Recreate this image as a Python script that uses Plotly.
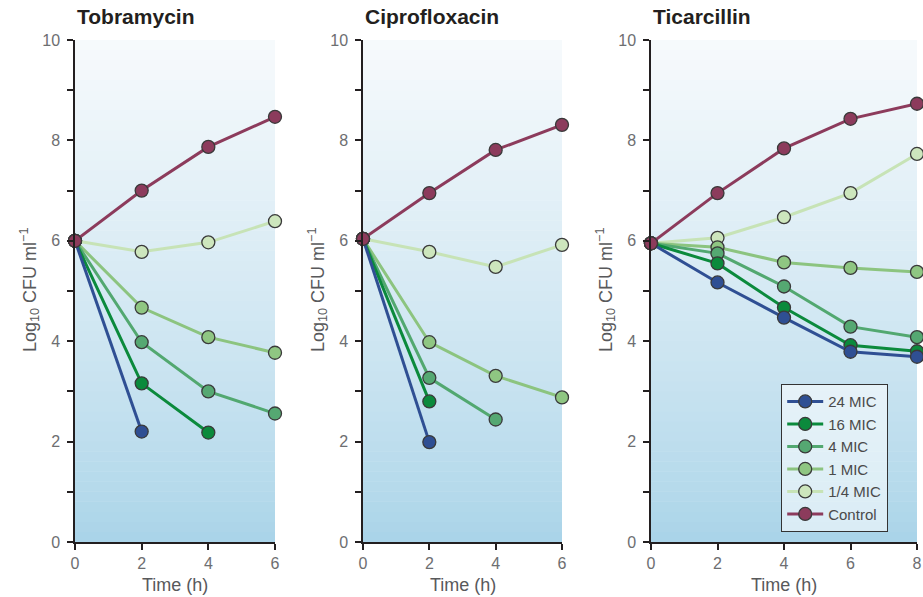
import plotly.graph_objects as go

# ---------------- data ----------------
series_names = ["24 MIC", "16 MIC", "4 MIC", "1 MIC", "1/4 MIC", "Control"]

tob_time = [0, 2, 4, 6]
tob_24 = [6.0, 2.2]
tob_16 = [6.0, 3.16, 2.18]
tob_4 = [6.0, 3.98, 3.0, 2.56]
tob_1 = [6.0, 4.67, 4.08, 3.77]
tob_q = [6.0, 5.78, 5.97, 6.39]
tob_ctrl = [6.0, 7.0, 7.87, 8.47]

cip_time = [0, 2, 4, 6]
cip_24 = [6.04, 1.99]
cip_16 = [6.04, 2.80]
cip_4 = [6.04, 3.27, 2.44]
cip_1 = [6.04, 3.98, 3.31, 2.88]
cip_q = [6.04, 5.78, 5.48, 5.92]
cip_ctrl = [6.04, 6.95, 7.81, 8.31]

tic_time = [0, 2, 4, 6, 8]
tic_24 = [5.95, 5.17, 4.47, 3.79, 3.69]
tic_16 = [5.95, 5.55, 4.67, 3.92, 3.80]
tic_4 = [5.95, 5.75, 5.09, 4.29, 4.08]
tic_1 = [5.95, 5.87, 5.57, 5.46, 5.38]
tic_q = [5.95, 6.06, 6.47, 6.95, 7.73]
tic_ctrl = [5.95, 6.95, 7.84, 8.43, 8.73]

panel_titles = ["Tobramycin", "Ciprofloxacin", "Ticarcillin"]
y_major = [0, 2, 4, 6, 8, 10]
y_minor_dtick = 1

panels = [
    (tob_time, [tob_24, tob_16, tob_4, tob_1, tob_q, tob_ctrl]),
    (cip_time, [cip_24, cip_16, cip_4, cip_1, cip_q, cip_ctrl]),
    (tic_time, [tic_24, tic_16, tic_4, tic_1, tic_q, tic_ctrl]),
]

# ---------------- style ----------------
W, H = 923, 597
FONT = "Liberation Sans, Arial, sans-serif"
line_colors = {"24 MIC": "#2f4f93", "16 MIC": "#0b8a3c", "4 MIC": "#52a870",
               "1 MIC": "#8cc47f", "1/4 MIC": "#c7e3b6", "Control": "#8c3b5c"}
marker_colors = {"24 MIC": "#2f4f93", "16 MIC": "#0b8a3c", "4 MIC": "#55a872",
                 "1 MIC": "#8fc682", "1/4 MIC": "#cde6bd", "Control": "#8c3b5c"}
draw_order = ["1/4 MIC", "1 MIC", "4 MIC", "16 MIC", "24 MIC", "Control"]

x_px = [(75, 275), (363, 562), (651, 917)]
y_top, y_bot = 40, 542
ydom = [1 - y_bot / H, 1 - y_top / H]

fig = go.Figure()

for i, (t, vals) in enumerate(panels):
    ax = "" if i == 0 else str(i + 1)
    for name in draw_order:
        v = vals[series_names.index(name)]
        fig.add_trace(go.Scatter(
            x=t[:len(v)], y=v, mode="lines+markers", name=name,
            xaxis="x" + ax, yaxis="y" + ax,
            line=dict(color=line_colors[name], width=3),
            marker=dict(size=13, color=marker_colors[name],
                        line=dict(color="#3a3a3a", width=1.3)),
            cliponaxis=False,
            showlegend=(i == 2),
            legendrank=series_names.index(name) + 1,
        ))

# gradient background via thin bands
def lerp(a, b, f):
    return tuple(int(round(a[k] + (b[k] - a[k]) * f)) for k in range(3))

top_c = (247, 250, 252)
bot_c = (168, 211, 232)
shapes = []
nb = 50
for i, (t, _) in enumerate(panels):
    ax = "" if i == 0 else str(i + 1)
    xmax = t[-1]
    for b in range(nb):
        y0 = 10 * b / nb
        y1 = 10 * (b + 1) / nb
        f = ((b + 0.5) / nb) ** 0.8
        c = lerp(bot_c, top_c, f)
        shapes.append(dict(type="rect", xref="x" + ax, yref="y" + ax,
                           x0=0, x1=xmax, y0=y0, y1=y1 + 0.01,
                           fillcolor="rgb(%d,%d,%d)" % c,
                           line=dict(width=0), layer="below"))

axis_common = dict(showline=True, linecolor="#231f20", linewidth=1.5,
                   ticks="outside", ticklen=6, tickwidth=1.5, tickcolor="#231f20",
                   showgrid=False, zeroline=False, automargin=False,
                   tickfont=dict(family=FONT, size=16, color="#6d6e71"))

layout = dict(width=W, height=H, margin=dict(l=0, r=0, t=0, b=0, pad=0, autoexpand=False),
              paper_bgcolor="white", plot_bgcolor="rgba(0,0,0,0)",
              shapes=shapes, showlegend=True,
              legend=dict(x=781 / W, y=1 - 458 / H, xanchor="left", yanchor="middle",
                          bgcolor="rgba(255,255,255,0.55)", bordercolor="#333333",
                          borderwidth=1.2, traceorder="normal",
                          font=dict(family=FONT, size=15, color="#4a4a4a"),
                          itemwidth=36, tracegroupgap=0))

annotations = []
for i, (t, _) in enumerate(panels):
    ax = "" if i == 0 else str(i + 1)
    x0, x1 = x_px[i]
    layout["xaxis" + ax] = dict(axis_common, domain=[x0 / W, x1 / W], range=[0, t[-1]],
                                tickvals=t, anchor="y" + ax, fixedrange=True)
    layout["yaxis" + ax] = dict(axis_common, domain=ydom, range=[0, 10],
                                tickvals=y_major, anchor="x" + ax, fixedrange=True,
                                ticklabelstandoff=4,
                                minor=dict(dtick=y_minor_dtick, ticks="outside", ticklen=6,
                                           tickwidth=1.5, tickcolor="#231f20", showgrid=False))
    annotations.append(dict(text="<b>" + panel_titles[i] + "</b>", xref="paper", yref="paper",
                            x=x0 / W, y=1 - 17 / H, xanchor="left", yanchor="middle",
                            showarrow=False, font=dict(family=FONT, size=21, color="#231f20")))
    annotations.append(dict(text="Log<sub>10</sub> CFU ml<sup>\u22121</sup>",
                            xref="paper", yref="paper", x=(x0 - 46) / W, y=1 - 290 / H,
                            xanchor="center", yanchor="middle", textangle=-90,
                            showarrow=False, font=dict(family=FONT, size=18, color="#58595b")))
    annotations.append(dict(text="Time (h)", xref="paper", yref="paper",
                            x=(x0 + x1) / 2 / W, y=1 - 585 / H,
                            xanchor="center", yanchor="middle",
                            showarrow=False, font=dict(family=FONT, size=18, color="#58595b")))
layout["annotations"] = annotations

fig.update_layout(**layout)
fig.write_html("out.html", config={"displayModeBar": False},
               post_script="document.body.style.margin='0';document.body.style.overflow='hidden';")
